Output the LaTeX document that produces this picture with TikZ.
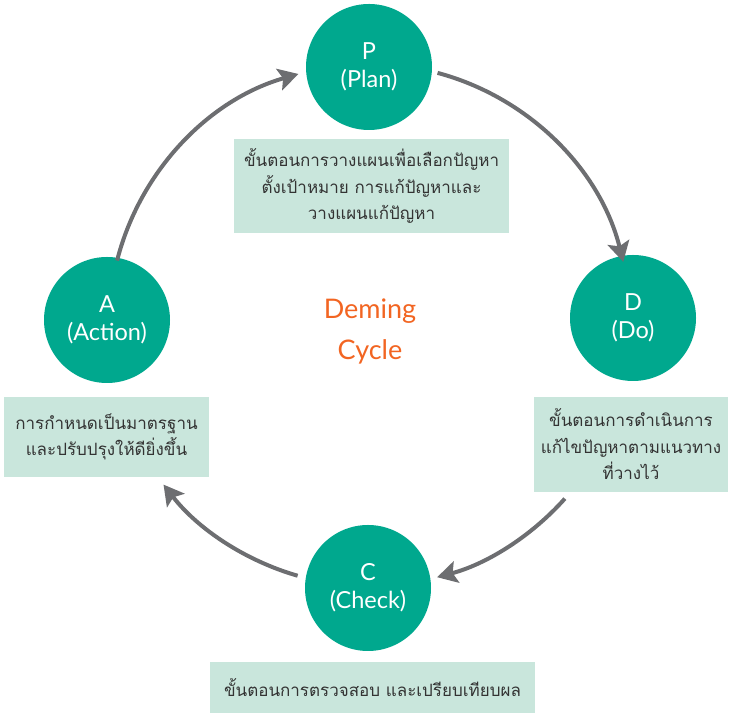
\documentclass[tikz,border=0pt]{standalone}
\usepackage{fontspec}
\setmainfont{Lato}
\newfontfamily\thaifont[Script=Thai]{Loma}
\usetikzlibrary{arrows.meta}
\definecolor{teal}{RGB}{0,168,142}
\definecolor{mint}{RGB}{201,230,220}
\definecolor{orng}{RGB}{242,101,34}
\definecolor{agray}{RGB}{109,110,113}
\definecolor{tgray}{RGB}{51,51,51}
\tikzset{
  stage/.style={circle, fill=teal, minimum size=126pt, inner sep=0pt, text=white, align=center, font=\fontsize{23.5}{28}\selectfont},
  box/.style={fill=mint, inner sep=0pt, align=center, text=tgray, font=\thaifont\fontsize{17}{26.5}\selectfont},
  arr/.style={draw=agray, line width=4pt, -{Stealth[length=20pt, width=22pt, inset=4pt]}}
}
\begin{document}
\begin{tikzpicture}[x=1pt,y=1pt]
\useasboundingbox (0,0) rectangle (731,714);
\node[stage] (P) at (369,647) {P\\(Plan)};
\node[stage] (D) at (633,396) {D\\(Do)};
\node[stage] (A) at (107,394) {A\\(Action)};
\node[stage] (C) at (368,126) {C\\(Check)};
\node[box, minimum width=275pt, minimum height=94pt] (pbox) at (371.5,528) {ขั้นตอนการวางแผนเพื่อเลือกปัญหา\\ตั้งเป้าหมาย การแก้ปัญหาและ\\วางแผนแก้ปัญหา};
\node[box, minimum width=194pt, minimum height=95pt] (dbox) at (631,269.5) {ขั้นตอนการดำเนินการ\\แก้ไขปัญหาตามแนวทาง\\ที่วางไว้};
\node[box, minimum width=205pt, minimum height=80pt] (abox) at (106.5,277) {การกำหนดเป็นมาตรฐาน\\และปรับปรุงให้ดียิ่งขึ้น};
\node[box, minimum width=325pt, minimum height=51pt] (cbox) at (372.5,26) {ขั้นตอนการตรวจสอบ และเปรียบเทียบผล};
\node[text=orng, align=center, font=\fontsize{27}{41}\selectfont] (title) at (370,383) {Deming\\Cycle};
\coordinate (ctr) at (370,389);
\draw[arr] ([shift={(165.7:261pt)}]ctr) arc[start angle=165.7, end angle=105.9, radius=261pt];
\draw[arr] ([shift={(75:261pt)}]ctr) arc[start angle=75, end angle=14, radius=261pt];
\draw[arr] ([shift={(-41.7:261pt)}]ctr) arc[start angle=-41.7, end angle=-75.1, radius=261pt];
\draw[arr] ([shift={(-106.1:261pt)}]ctr) arc[start angle=-106.1, end angle=-142.3, radius=261pt];
\end{tikzpicture}
\end{document}
